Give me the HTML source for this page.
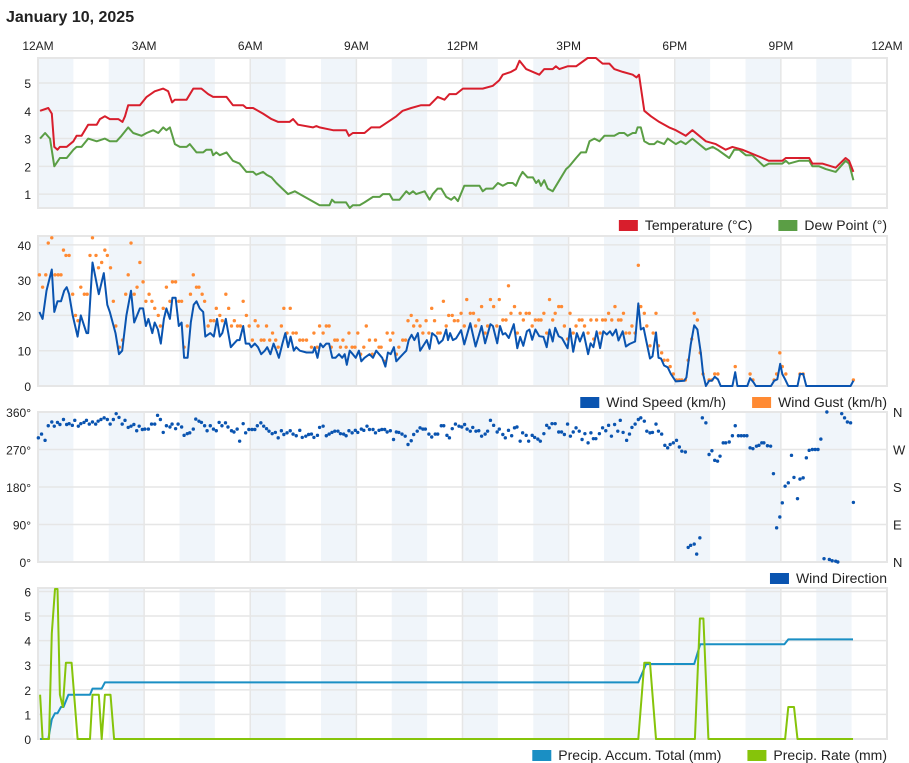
<!DOCTYPE html>
<html><head><meta charset="utf-8"><style>
body{margin:0;background:#fff;font-family:"Liberation Sans",Arial,sans-serif;}
#wrap{position:relative;width:909px;height:763px;overflow:hidden;}
svg{position:absolute;left:0;top:0;}
</style></head><body>
<div id="wrap">
<svg id="c" width="909" height="763"></svg>
</div>
<script>
const hourTicks=["12AM","3AM","6AM","9AM","12PM","3PM","6PM","9PM","12AM"];
const tempT=[0.06,0.29,0.39,0.46,0.55,0.62,0.81,1.00,1.09,1.23,1.42,1.66,1.75,1.89,2.03,2.27,2.39,2.46,2.55,2.88,3.07,3.30,3.54,3.68,3.79,3.87,4.20,4.39,4.62,4.81,4.95,5.33,5.51,5.80,5.89,6.08,6.36,6.60,6.79,7.11,7.21,7.35,7.77,7.87,7.96,8.34,8.71,8.79,8.90,9.23,9.42,9.66,9.89,10.13,10.31,10.55,10.83,11.07,11.30,11.49,11.63,11.82,12.01,12.57,12.86,13.04,13.14,13.37,13.51,13.61,13.80,13.99,14.17,14.31,14.55,14.64,14.74,14.97,15.21,15.54,15.77,15.96,16.15,16.29,16.53,16.81,16.92,16.99,17.14,17.33,17.56,17.84,18.03,18.31,18.50,18.88,19.16,19.44,19.63,19.91,20.10,20.48,20.66,21.04,21.14,21.51,21.80,21.89,22.17,22.55,22.83,22.93,23.05];
const tempV=[4.0,4.1,3.9,2.7,2.6,2.7,2.7,2.9,3.1,3.1,3.5,3.5,3.7,3.8,3.7,3.7,3.6,3.8,4.2,4.2,4.5,4.7,4.8,4.7,4.3,4.4,4.4,4.8,4.8,4.6,4.5,4.5,4.2,4.2,4.1,4.1,3.9,3.7,3.6,3.6,3.7,3.5,3.4,3.45,3.4,3.3,3.3,3.1,3.2,3.2,3.4,3.4,3.6,3.8,4.0,4.1,4.2,4.2,4.5,4.4,4.6,4.6,4.8,4.8,4.9,5.1,5.3,5.4,5.5,5.8,5.5,5.4,5.3,5.5,5.5,5.6,5.5,5.6,5.6,5.9,5.9,5.7,5.7,5.5,5.4,5.3,5.2,5.3,4.0,3.8,3.6,3.4,3.3,3.1,3.3,2.9,2.8,2.6,2.7,2.6,2.5,2.3,2.2,2.2,2.3,2.3,2.3,2.1,2.1,1.95,2.3,2.2,1.8];
const dewT=[0.06,0.20,0.34,0.46,0.62,0.81,1.0,1.09,1.23,1.42,1.66,1.89,2.03,2.22,2.36,2.55,2.69,2.93,3.07,3.26,3.40,3.54,3.63,3.73,3.87,4.01,4.20,4.29,4.48,4.67,4.76,4.90,4.95,5.04,5.14,5.33,5.51,5.70,5.89,6.08,6.17,6.36,6.46,6.60,6.74,7.07,7.26,7.40,7.54,7.96,8.24,8.31,8.39,8.71,8.81,8.90,9.09,9.23,9.47,9.66,9.75,9.94,10.03,10.22,10.41,10.50,10.60,10.69,10.93,11.07,11.16,11.30,11.40,11.54,11.68,11.77,11.87,12.05,12.48,12.57,12.67,12.86,13.00,13.14,13.28,13.42,13.51,13.61,13.70,13.84,13.99,14.08,14.15,14.22,14.31,14.41,14.55,14.74,14.93,15.02,15.21,15.35,15.49,15.59,15.73,15.87,16.01,16.29,16.43,16.57,16.67,16.81,16.90,16.95,17.04,17.14,17.28,17.42,17.51,17.70,17.80,18.03,18.17,18.31,18.50,18.88,19.07,19.21,19.54,19.68,19.82,20.01,20.19,20.52,20.66,21.04,21.14,21.23,21.51,21.80,21.89,22.08,22.27,22.55,22.83,22.93,23.05];
const dewV=[3.0,3.2,3.0,2.0,2.3,2.3,2.6,2.7,2.7,3.0,2.9,3.0,2.9,2.9,3.1,3.4,3.2,3.1,3.2,3.3,3.2,3.4,3.3,3.4,2.8,2.7,2.7,2.8,2.5,2.5,2.6,2.6,2.4,2.5,2.4,2.5,2.2,2.1,1.8,1.8,1.7,1.8,1.7,1.6,1.4,1.0,1.1,1.0,0.9,0.6,0.6,0.8,0.7,0.7,0.5,0.6,0.6,0.7,0.9,0.9,1.0,1.0,0.8,0.8,1.1,1.0,1.1,1.0,1.1,0.8,1.0,1.2,1.2,0.9,0.8,0.9,0.75,1.3,1.3,1.1,1.2,1.2,1.4,1.3,1.4,1.4,1.3,1.6,1.8,1.6,1.6,1.4,1.5,1.3,1.5,1.2,1.1,1.5,1.9,2.0,2.3,2.5,2.5,2.9,3.0,2.9,3.1,3.1,3.2,3.2,3.1,3.2,3.2,3.4,3.4,2.9,2.8,2.8,2.9,2.8,3.0,2.8,2.9,2.8,3.0,2.6,2.7,2.6,2.3,2.6,2.6,2.4,2.4,2.0,2.1,2.1,2.2,2.1,2.2,2.2,2.0,2.0,1.9,1.8,2.2,2.1,1.5];
const windT=[.04,.13,.24,.39,.46,.55,.65,.74,.81,.88,.98,1.12,1.21,1.37,1.42,1.54,1.72,1.86,1.96,2.03,2.19,2.29,2.38,2.50,2.63,2.72,2.88,2.97,3.05,3.12,3.23,3.30,3.39,3.47,3.56,3.63,3.73,3.80,3.89,3.98,4.06,4.13,4.23,4.32,4.40,4.48,4.57,4.67,4.73,4.87,4.97,5.06,5.14,5.21,5.31,5.45,5.54,5.63,5.70,5.80,5.87,5.97,6.03,6.13,6.22,6.31,6.41,6.48,6.57,6.66,6.74,6.81,6.91,6.99,7.07,7.14,7.23,7.30,7.40,7.59,7.77,7.82,7.90,7.98,8.06,8.15,8.23,8.32,8.41,8.51,8.60,8.67,8.73,8.81,8.90,8.98,9.07,9.14,9.23,9.37,9.47,9.56,9.73,9.82,9.89,9.97,10.06,10.13,10.22,10.36,10.41,10.48,10.56,10.64,10.74,10.80,10.93,10.99,11.07,11.14,11.26,11.33,11.44,11.54,11.59,11.65,11.73,11.82,11.91,11.96,12.05,12.22,12.37,12.54,12.64,12.79,12.86,12.98,13.06,13.14,13.21,13.31,13.45,13.55,13.63,13.72,13.82,13.89,13.97,14.06,14.17,14.29,14.38,14.46,14.55,14.62,14.72,14.81,14.97,15.04,15.13,15.23,15.32,15.42,15.55,15.62,15.70,15.79,15.89,15.98,16.08,16.17,16.24,16.34,16.41,16.53,16.62,16.72,16.88,16.97,17.04,17.12,17.20,17.30,17.37,17.47,17.54,17.61,17.70,17.80,17.89,18.03,18.27,18.33,18.45,18.55,18.64,18.74,18.80,18.88,18.97,19.05,19.13,19.22,19.30,19.63,19.71,19.77,20.05,20.13,20.23,20.29,20.72,20.81,20.90,20.98,21.04,21.12,21.21,21.47,21.54,21.63,21.72,22.97,23.05];
const windV=[21,19,27,33,21,24,24,27,28,26,20,14,20,15,15,35,26,32,23,21,15,9,10,20,27,18,22,22,17,19,15,18,16,12,19,22,19,25,25,17,18,8,8,18,23,24,22,21,14,15,14,19,14,15,19,11,12,13,13,17,12,12,11,12,11,9,10,11,9,12,10,8,12,15,11,14,10,11,10,9.5,9.5,11,8,12,11,12,12,8,8,9,8,9,6,10,9,8,10,7,8,9,8,10,8,5.5,9.5,9,11,7,8,9.5,10,13,14.5,13,15,10,12,13,10.5,15,14,12,13,16,13,15,13,13.5,15,15.8,11.8,17.8,11.2,17,12.1,17.5,17,12.1,17,14.6,15,13.6,17.5,10.7,13.9,11.4,15.5,16,13.1,16,14.1,13.9,11,16,12.6,16.5,14.1,13.6,10.7,16.2,9.7,15,12.6,15.2,9,12.1,11,15.5,10.7,15.5,14.6,15.5,14.3,16,12.9,15.5,11.2,11.9,12.6,23.4,16,16.5,12.6,7.8,8.4,15.2,8,7.8,5.8,5.3,3.4,1.3,1.5,2.4,11.7,17.2,16,9.2,3.4,0,1.5,1.5,2.6,1.9,0,0,3.9,0,0,2.2,1,0,0,1.5,1.9,6.3,3.4,1.9,0,0,3.4,3.4,0,0,1.5];
const gustT=[.04,.13,.22,.29,.39,.48,.57,.65,.72,.79,.88,.98,1.06,1.13,1.21,1.31,1.39,1.47,1.54,1.64,1.71,1.80,1.89,1.96,2.05,2.13,2.20,2.30,2.39,2.48,2.55,2.63,2.72,2.80,2.88,2.97,3.05,3.14,3.22,3.30,3.40,3.46,3.54,3.63,3.73,3.80,3.89,3.98,4.06,4.13,4.22,4.31,4.39,4.48,4.55,4.64,4.71,4.81,4.88,4.97,5.04,5.14,5.21,5.31,5.39,5.47,5.55,5.64,5.72,5.80,5.89,5.97,6.06,6.14,6.22,6.31,6.39,6.46,6.55,6.63,6.72,6.79,6.88,6.95,7.04,7.13,7.21,7.30,7.40,7.49,7.59,7.73,7.80,7.89,7.96,8.06,8.15,8.23,8.29,8.39,8.46,8.55,8.62,8.71,8.79,8.88,8.96,9.04,9.12,9.21,9.28,9.37,9.45,9.54,9.64,9.70,9.80,9.87,9.96,10.03,10.13,10.20,10.31,10.39,10.46,10.55,10.62,10.71,10.80,10.88,10.97,11.05,11.13,11.21,11.30,11.37,11.46,11.54,11.61,11.71,11.77,11.87,11.96,12.05,12.12,12.22,12.31,12.37,12.46,12.54,12.64,12.71,12.79,12.88,12.97,13.04,13.14,13.23,13.30,13.37,13.47,13.55,13.63,13.72,13.80,13.89,13.97,14.06,14.15,14.22,14.30,14.38,14.46,14.55,14.62,14.72,14.80,14.88,14.97,15.04,15.13,15.21,15.30,15.38,15.45,15.55,15.63,15.71,15.79,15.89,15.96,16.04,16.13,16.22,16.31,16.41,16.48,16.55,16.62,16.72,16.79,16.88,16.97,17.04,17.14,17.21,17.30,17.39,17.47,17.54,17.63,17.70,17.80,17.87,17.96,18.05,18.13,18.20,18.30,18.38,18.48,18.55,18.64,18.72,18.80,18.97,19.05,19.13,19.22,19.71,20.13,20.21,20.81,20.88,20.97,21.04,21.14,21.54,21.63,23.05];
const gustV=[31.5,28,31.5,40.5,42,31.5,31.5,31.5,38.5,37,37,26,20,18.5,28,26,26,37,42,37,33.5,35,38.5,37,33.5,24,17,11,13,26,31.5,40.5,26,28,35,29.5,24,26,24,22,20,17,22,28,24,29.5,29.5,24,24,11,17,26,31.5,28,28,26,24,17,18.5,18.5,22,20,18.5,26,22,17,18.5,17,17,24,20,17,13,18.5,17,13,13,17,13,15,13,11,17,22,15,22,15,15,13,13,13,11,15,11,17,15,17,17,11,13,13,11,13,11,15,11,11,15,9,11,17,13,9,13,11,11,7,15,13,15,9,11,13,13,18.5,20,17,18.5,17,15,18.5,15,22,18.5,15,15,24,17,20,20,18.5,18.5,20.6,17,24.5,20.6,20.6,17,18.7,22.5,15,17,24.5,22.5,17,24.5,18.7,18.7,28.4,20.6,22.5,15,20.6,18.7,20.6,20.6,17,18.7,18.7,18.7,20.6,15,24.5,18.7,20.6,22.5,22.5,17,13.3,20.6,15,17,18.7,18.7,17,15,18.7,13.3,18.7,15,18.7,18.7,20.6,18.7,22.5,18.7,18.7,20.6,15,15,17,15,34.2,22.5,20.6,17,11.4,15,20.6,11.4,9.4,7.3,7.3,5.5,3.4,1.7,1.7,1.7,1.7,7.3,13.3,20.6,18.7,9.4,3.4,1.7,1.7,3.4,3.4,5.5,3.4,1.7,1.7,3.4,9.4,5.5,3.4,3.4,3.4,1.7];
const dirT=[.01,.10,.20,.29,.39,.46,.55,.62,.72,.81,.88,.97,1.04,1.14,1.21,1.30,1.37,1.45,1.54,1.63,1.70,1.78,1.87,1.96,2.04,2.13,2.21,2.29,2.38,2.46,2.55,2.63,2.71,2.79,2.86,2.95,3.02,3.12,3.21,3.30,3.38,3.46,3.54,3.63,3.73,3.79,3.89,3.96,4.06,4.13,4.22,4.29,4.39,4.46,4.55,4.62,4.71,4.78,4.87,4.96,5.04,5.12,5.20,5.30,5.37,5.47,5.54,5.63,5.70,5.80,5.87,5.96,6.05,6.13,6.20,6.30,6.38,6.46,6.53,6.62,6.71,6.79,6.88,6.95,7.04,7.13,7.21,7.30,7.40,7.47,7.57,7.65,7.73,7.80,7.90,7.96,8.06,8.15,8.23,8.31,8.39,8.48,8.55,8.64,8.71,8.79,8.88,8.97,9.04,9.14,9.21,9.30,9.37,9.47,9.54,9.64,9.72,9.80,9.87,9.96,10.05,10.13,10.20,10.29,10.38,10.46,10.55,10.62,10.72,10.80,10.88,10.95,11.05,11.13,11.23,11.30,11.40,11.47,11.56,11.63,11.71,11.80,11.90,11.98,12.06,12.13,12.22,12.29,12.38,12.46,12.54,12.64,12.71,12.79,12.88,12.98,13.04,13.14,13.21,13.30,13.39,13.47,13.54,13.63,13.70,13.80,13.87,13.97,14.04,14.13,14.20,14.30,14.38,14.45,14.53,14.62,14.72,14.80,14.88,14.97,15.05,15.13,15.21,15.30,15.38,15.46,15.55,15.63,15.70,15.77,15.87,15.96,16.05,16.13,16.21,16.30,16.39,16.46,16.54,16.64,16.72,16.79,16.88,16.97,17.04,17.14,17.21,17.30,17.37,17.47,17.54,17.63,17.72,17.80,17.87,17.96,18.05,18.13,18.20,18.30,18.38,18.45,18.55,18.62,18.71,18.78,18.88,18.97,19.05,19.13,19.21,19.28,19.37,19.44,19.54,19.63,19.71,19.80,19.88,19.96,20.04,20.13,20.21,20.31,20.38,20.46,20.52,20.62,20.71,20.79,20.88,20.97,21.04,21.12,21.21,21.30,21.37,21.47,21.54,21.63,21.72,21.80,21.89,21.97,22.05,22.13,22.22,22.30,22.37,22.45,22.55,22.61,22.72,22.80,22.88,22.97,23.05];
const dirV=[298,307,292,327,336,326,335,330,342,330,332,328,340,326,332,335,340,331,336,331,338,342,346,342,331,342,356,347,331,340,323,326,330,315,326,318,319,319,331,331,352,342,311,327,324,331,320,331,324,304,308,310,319,343,338,335,327,315,327,319,315,335,327,334,324,315,312,319,290,332,310,318,318,318,327,334,326,320,314,308,311,298,315,306,310,315,307,303,316,299,302,306,307,299,304,323,326,303,307,311,314,314,308,307,303,315,310,316,311,319,316,326,318,318,310,316,318,318,312,315,294,312,311,307,302,282,291,306,314,322,319,319,307,300,307,307,327,327,304,298,320,331,326,324,330,319,314,323,314,315,302,307,314,340,328,312,319,306,298,316,303,322,324,290,310,304,290,304,299,295,290,308,328,322,332,332,312,312,306,331,302,312,322,314,294,308,286,310,296,296,308,322,315,328,302,330,314,340,311,292,307,323,331,342,346,338,314,310,311,331,314,307,280,274,282,286,292,276,266,264,35,40,43,19,58,346,334,258,267,244,242,254,286,286,288,303,327,303,303,303,303,274,272,278,280,286,286,279,278,212,82,108,142,182,190,256,203,152,199,202,250,268,270,270,270,295,8,360,6,3,2,0,356,346,336,334,143];
const accT=[0.06,0.29,0.39,0.48,0.55,0.65,0.72,0.86,1.47,1.54,1.80,1.89,16.97,17.19,18.55,18.72,21.10,21.21,23.04];
const accV=[0,0,0.8,1.05,1.05,1.3,1.3,1.8,1.8,2.05,2.05,2.3,2.3,3.05,3.05,3.85,3.85,4.05,4.05];
const rateT=[0.06,0.13,0.31,0.39,0.48,0.55,0.62,0.70,0.79,0.95,1.12,1.47,1.54,1.72,1.80,1.89,2.05,2.15,16.97,17.14,17.30,17.47,18.57,18.71,18.81,18.95,21.12,21.21,21.37,21.47,23.04];
const rateV=[1.8,0,0,4.3,6.1,6.1,1.8,1.3,3.1,3.1,0,0,1.8,1.8,0,1.8,1.8,0,0,3.1,3.1,0,0,4.9,4.9,0,0,1.3,1.3,0,0];

const NS='http://www.w3.org/2000/svg';
const svg=document.getElementById('c');
const L=38,R=887;
const X=h=>L+(R-L)*h/24;
function el(tag,attrs,parent){const e=document.createElementNS(NS,tag);for(const k in attrs)e.setAttribute(k,attrs[k]);(parent||svg).appendChild(e);return e;}
function txt(s,x,y,anchor,size,parent,weight){const t=el('text',{x:x,y:y,'text-anchor':anchor,'font-size':size,fill:'#222','font-family':'Liberation Sans, Arial, sans-serif'},parent);if(weight)t.setAttribute('font-weight',weight);t.textContent=s;return t;}

// title
const title=txt('January 10, 2025',6,22,'start',16,svg,'bold');


// hour axis labels
hourTicks.forEach((s,i)=>{const t=txt(s,X(i*3),50,'middle',12);

});

function panel(name,top,bot,min,max,ticks,tickLbl,rightLbl){
  const g=el('g',{});
  
  
  const Y=v=>bot-(bot-top)*(v-min)/(max-min);
  for(let h=0;h<24;h+=2){el('rect',{x:X(h),y:top,width:X(1)-X(0),height:bot-top,fill:'#f0f5fa'},g);}
  for(let h=3;h<24;h+=3){el('line',{x1:X(h),x2:X(h),y1:top,y2:bot,stroke:'#e6e6e6','stroke-width':1.5},g);}
  ticks.forEach((v,i)=>{el('line',{x1:L,x2:R,y1:Y(v),y2:Y(v),stroke:'#e6e6e6','stroke-width':1.5},g);
    const t=txt(tickLbl[i],31,Y(v)+5,'end',12,g);
    
    
    if(rightLbl){const r=txt(rightLbl[i],893,Y(v)+5,'start',13,g);
      
      }
  });
  el('rect',{x:L,y:top,width:R-L,height:bot-top,fill:'none',stroke:'#e6e6e6','stroke-width':2},g);
  return {g,Y};
}
function line(p,T,V,color,w,name,step){
  let d='';T.forEach((t,i)=>{d+=(i?'L':'M')+X(t).toFixed(1)+','+p.Y(V[i]).toFixed(1);});
  const e=el('path',{d:d,fill:'none',stroke:color,'stroke-width':w,'stroke-linejoin':'round'},p.g);
  
  
}
function dots(p,T,V,color,r,name){
  T.forEach((t,i)=>{const c=el('circle',{cx:X(t),cy:p.Y(V[i]),r:r,fill:color},p.g);
  
  });
}
function legend(items,y){
  // right aligned at R
  let x=R;
  const g=el('g',{});
  
  
  for(let i=items.length-1;i>=0;i--){
    const [label,color]=items[i];
    const t=txt(label,x,y+5,'end',14,g);
    
    
    const w=t.getComputedTextLength();
    el('rect',{x:x-w-26,y:y-5,width:19,height:11,fill:color},g);
    x=x-w-26-26;
  }
}

const p1=panel('temperature',58,208,0.5,5.9,[1,2,3,4,5],['1','2','3','4','5']);
line(p1,dewT,dewV,'#5b9e45',2,'dew-point-line');
line(p1,tempT,tempV,'#d81e2c',2,'temperature-line');
legend([['Temperature (°C)','#d81e2c'],['Dew Point (°)','#5b9e45']],225);

const p2=panel('wind',236,386,0,42.5,[0,10,20,30,40],['0','10','20','30','40']);
dots(p2,gustT,gustV,'#ff8a33',1.7,'wind-gust-point');
line(p2,windT,windV,'#0a54b0',2,'wind-speed-line');
legend([['Wind Speed (km/h)','#0a54b0'],['Wind Gust (km/h)','#ff8a33']],402);

const p3=panel('wind-direction',412,562,0,360,[0,90,180,270,360],['0°','90°','180°','270°','360°'],['N','E','S','W','N']);
dots(p3,dirT,dirV,'#0a54b0',1.7,'wind-direction-point');
legend([['Wind Direction','#0a54b0']],578);

const p4=panel('precipitation',588,739,0,6.14,[0,1,2,3,4,5,6],['0','1','2','3','4','5','6']);
line(p4,accT,accV,'#1a8fc4',2,'precip-accum-line');
line(p4,rateT,rateV,'#86c40a',2,'precip-rate-line');
legend([['Precip. Accum. Total (mm)','#1a8fc4'],['Precip. Rate (mm)','#86c40a']],755);
</script>
</body></html>
